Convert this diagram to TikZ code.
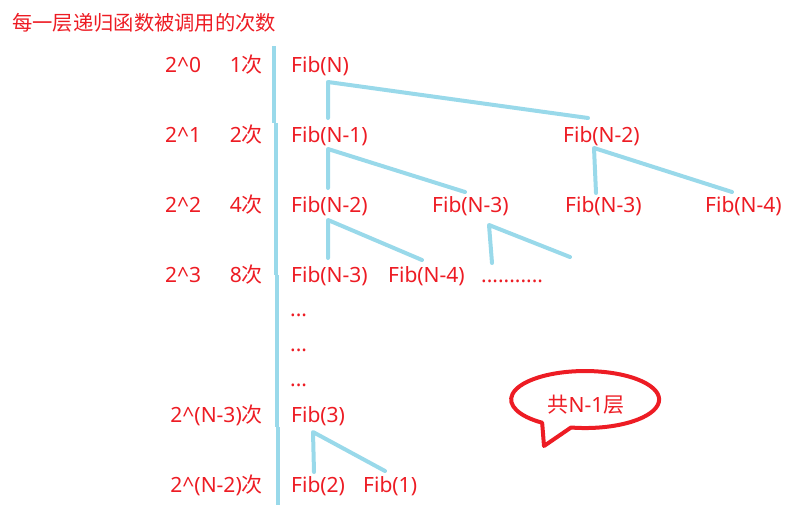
\documentclass[tikz,border=0pt]{standalone}
\usepackage{fontspec}
\setmainfont{Noto Sans}
\newfontfamily\cjk{Noto Sans CJK SC}
\usepackage{tikz}
\definecolor{PaintRed}{RGB}{237,28,36}
\definecolor{PaintBlue}{RGB}{153,217,234}

\begin{document}
\begin{tikzpicture}[x=1pt, y=-1pt,
  lbl/.style={anchor=base west, inner sep=0pt, text=PaintRed, font=\fontsize{21}{25}\selectfont},
  cnt/.style={lbl, anchor=base east},
  edge/.style={draw=PaintBlue, line width=4pt, line cap=round, line join=round},
  bar/.style={draw=PaintBlue, line width=4pt},
  bubble/.style={draw=PaintRed, line width=4pt, line join=round}]
\useasboundingbox (0,0) rectangle (802,517);
\node[lbl, font=\fontsize{20.3}{24}\selectfont] (title) at (12,30) {\cjk 每一层递归函数被调用的次数};
% left column
\node[lbl] (p0) at (165,72) {2\^{}0};
\node[lbl] (p1) at (165,142) {2\^{}1};
\node[lbl] (p2) at (165,212) {2\^{}2};
\node[lbl] (p3) at (165,282) {2\^{}3};
\node[cnt] (c0) at (263,72) {1{\cjk 次}};
\node[cnt] (c1) at (263,142) {2{\cjk 次}};
\node[cnt] (c2) at (263,212) {4{\cjk 次}};
\node[cnt] (c3) at (263,282) {8{\cjk 次}};
\node[cnt] (cN3) at (263,422) {2\^{}(N-3){\cjk 次}};
\node[cnt] (cN2) at (263,492) {2\^{}(N-2){\cjk 次}};
% divider
\draw[bar] (274.3,46) -- (274.3,123);
\draw[bar] (275.7,123) -- (275.7,275);
\draw[bar] (276.7,275) -- (276.7,427);
\draw[bar] (277.7,427) -- (277.7,505);
% calls
\node[lbl] (fN) at (291,72) {Fib(N)};
\node[lbl] (fNa) at (291,142) {Fib(N-1)};
\node[lbl] (fNb) at (563,142) {Fib(N-2)};
\node[lbl] (fNaa) at (291,212) {Fib(N-2)};
\node[lbl] (fNab) at (432,212) {Fib(N-3)};
\node[lbl] (fNba) at (565,212) {Fib(N-3)};
\node[lbl] (fNbb) at (705,212) {Fib(N-4)};
\node[lbl] (fNaaa) at (291,282) {Fib(N-3)};
\node[lbl] (fNaab) at (388,282) {Fib(N-4)};
\node[lbl] (more) at (481,282) {...........};
\node[lbl] (gap1) at (290,316) {...};
\node[lbl] (gap2) at (290,351) {...};
\node[lbl] (gap3) at (290,386) {...};
\node[lbl] (f3) at (291,422) {Fib(3)};
\node[lbl] (f2) at (291,492) {Fib(2)};
\node[lbl] (f1) at (363,492) {Fib(1)};
% branches
\coordinate (kN) at (328,82);
\coordinate (kNa) at (328,149);
\coordinate (kNb) at (594,148);
\coordinate (kNaa) at (328,220);
\coordinate (kNab) at (489,225);
\coordinate (k3) at (313,432);
\coordinate (eNa) at (328,118);
\coordinate (eNb) at (588,118);
\coordinate (eNaa) at (328,188);
\coordinate (eNab) at (465,192);
\coordinate (eNba) at (596,193);
\coordinate (eNbb) at (732,192);
\coordinate (eNaaa) at (328,258);
\coordinate (eNaab) at (422,260);
\coordinate (eX) at (492,263);
\coordinate (eY) at (570,257);
\coordinate (e2) at (314,472);
\coordinate (e1) at (385,471);
\draw[edge] (eNa) -- (kN) -- (eNb);
\draw[edge] (eNaa) -- (kNa) -- (eNab);
\draw[edge] (eNba) -- (kNb) -- (eNbb);
\draw[edge] (eNaaa) -- (kNaa) -- (eNaab);
\draw[edge] (eX) -- (kNab) -- (eY);
\draw[edge] (e2) -- (k3) -- (e1);
% note
\draw[bubble] (571,427.5) arc[start angle=-101, end angle=234.5, x radius=74pt, y radius=28.5pt] -- (544,446) -- cycle;
\node[lbl, anchor=base] (levels) at (586,412) {{\cjk 共}N-1{\cjk 层}};
\end{tikzpicture}
\end{document}
